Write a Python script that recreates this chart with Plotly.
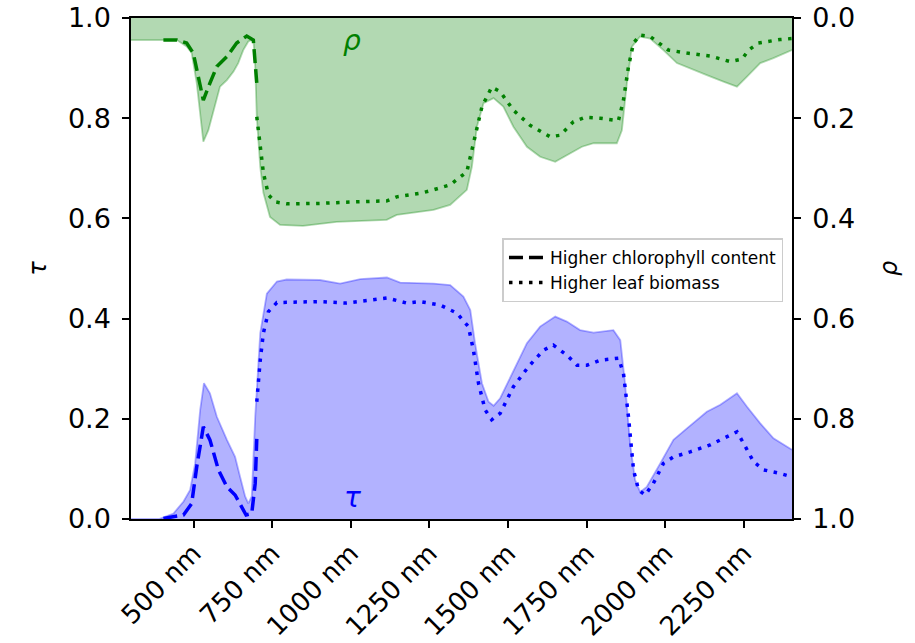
import plotly.graph_objects as go

# ---------------- data (wavelength in nm) ----------------
# reflectance envelope (filled, right axis, reversed)
rho_fill_x = [300, 447, 478, 494, 510, 521, 531, 547, 563, 584, 606, 627, 642, 658, 674, 685, 691,
              696, 701, 712, 722, 743, 775, 848, 955, 1114, 1146, 1220, 1263, 1316, 1369, 1385,
              1401, 1422, 1454, 1485, 1517, 1560, 1602, 1650, 1698, 1735, 1772, 1846, 1862, 1878,
              1894, 1920, 1952, 1994, 2037, 2079, 2132, 2185, 2228, 2260, 2302, 2344, 2403]
rho_fill_y = [0.044, 0.044, 0.057, 0.070, 0.130, 0.198, 0.247, 0.224, 0.184, 0.137, 0.124, 0.107,
              0.090, 0.064, 0.047, 0.044, 0.050, 0.097, 0.197, 0.297, 0.349, 0.397, 0.413, 0.415,
              0.407, 0.403, 0.393, 0.387, 0.383, 0.373, 0.343, 0.297, 0.217, 0.170, 0.160, 0.177,
              0.217, 0.257, 0.277, 0.287, 0.270, 0.257, 0.250, 0.250, 0.224, 0.130, 0.057, 0.037,
              0.041, 0.064, 0.090, 0.100, 0.114, 0.127, 0.137, 0.117, 0.090, 0.080, 0.064]

# reflectance, higher chlorophyll content
rho_chl_x = [404, 447, 478, 499, 515, 531, 552, 574, 606, 637, 669, 690, 701]
rho_chl_y = [0.044, 0.044, 0.050, 0.070, 0.117, 0.164, 0.130, 0.097, 0.077, 0.050, 0.036, 0.044, 0.130]

# reflectance, higher leaf biomass
rho_bio_x = [701, 712, 722, 738, 759, 796, 902, 1008, 1115, 1146, 1220, 1252, 1316, 1369, 1385,
             1401, 1417, 1448, 1475, 1517, 1570, 1634, 1666, 1708, 1745, 1793, 1851, 1867, 1883,
             1899, 1920, 1952, 1978, 2010, 2069, 2143, 2206, 2244, 2265, 2296, 2365, 2403]
rho_bio_y = [0.197, 0.263, 0.309, 0.353, 0.367, 0.371, 0.370, 0.367, 0.365, 0.357, 0.350, 0.345,
             0.333, 0.307, 0.263, 0.217, 0.177, 0.138, 0.147, 0.184, 0.214, 0.237, 0.234, 0.207,
             0.198, 0.200, 0.205, 0.164, 0.097, 0.050, 0.034, 0.037, 0.050, 0.064, 0.070, 0.076,
             0.087, 0.082, 0.064, 0.050, 0.043, 0.041]

# transmittance envelope (filled, left axis)
tau_fill_x = [300, 390, 436, 468, 489, 505, 521, 533, 552, 574, 606, 632, 648, 664, 674, 685, 696,
              712, 733, 765, 796, 902, 966, 1030, 1115, 1157, 1263, 1316, 1358, 1380, 1395, 1417,
              1438, 1454, 1475, 1517, 1560, 1602, 1650, 1687, 1729, 1772, 1835, 1857, 1872, 1888,
              1904, 1920, 1941, 1984, 2026, 2069, 2132, 2175, 2228, 2260, 2302, 2344, 2403]
tau_fill_y = [0.0, 0.0, 0.011, 0.035, 0.058, 0.111, 0.218, 0.271, 0.251, 0.204, 0.158, 0.124,
              0.084, 0.045, 0.031, 0.045, 0.204, 0.371, 0.450, 0.474, 0.478, 0.477, 0.470, 0.479,
              0.482, 0.472, 0.470, 0.467, 0.444, 0.417, 0.351, 0.271, 0.234, 0.226, 0.241, 0.297,
              0.351, 0.384, 0.404, 0.394, 0.377, 0.372, 0.377, 0.357, 0.271, 0.151, 0.078, 0.054,
              0.064, 0.111, 0.158, 0.181, 0.214, 0.228, 0.251, 0.224, 0.191, 0.161, 0.138]

# transmittance, higher chlorophyll content
tau_chl_x = [404, 468, 494, 510, 531, 552, 579, 606, 632, 667, 685, 696, 701]
tau_chl_y = [0.001, 0.008, 0.031, 0.104, 0.184, 0.158, 0.098, 0.064, 0.048, 0.008, 0.011, 0.071, 0.160]

# transmittance, higher leaf biomass
tau_bio_x = [701, 712, 722, 738, 765, 902, 987, 1115, 1178, 1220, 1284, 1337, 1374, 1390, 1406,
             1427, 1448, 1475, 1517, 1565, 1613, 1644, 1687, 1719, 1751, 1793, 1851, 1867, 1883,
             1899, 1915, 1936, 1962, 1994, 2026, 2079, 2143, 2196, 2228, 2249, 2281, 2313, 2365, 2403]
tau_bio_y = [0.234, 0.317, 0.371, 0.414, 0.432, 0.434, 0.431, 0.441, 0.431, 0.434, 0.427, 0.411,
             0.384, 0.337, 0.271, 0.218, 0.198, 0.211, 0.264, 0.304, 0.337, 0.347, 0.327, 0.307,
             0.307, 0.317, 0.321, 0.291, 0.204, 0.098, 0.058, 0.048, 0.071, 0.111, 0.124, 0.134,
             0.148, 0.164, 0.174, 0.151, 0.114, 0.098, 0.091, 0.084]

x_ticks = [500, 750, 1000, 1250, 1500, 1750, 2000, 2250]
x_tick_labels = [f"{v} nm" for v in x_ticks]
y_ticks = [0.0, 0.2, 0.4, 0.6, 0.8, 1.0]
y_tick_labels = ["0.0", "0.2", "0.4", "0.6", "0.8", "1.0"]
legend_names = ["Higher chlorophyll content", "Higher leaf biomass"]

GREEN = "#008000"
BLUE = "#0000ff"
GREEN_FILL = "rgba(0,128,0,0.3)"
BLUE_FILL = "rgba(0,0,255,0.3)"
DASH = "14px,6px"
DOT = "3.5px,6.5px"
LW = 3.5
FONT = "DejaVu Sans"

fig = go.Figure()

# transmittance (left axis)
fig.add_trace(go.Scatter(x=tau_fill_x, y=tau_fill_y, mode="lines", fill="tozeroy",
                         fillcolor=BLUE_FILL, line=dict(color=BLUE_FILL, width=1.8),
                         showlegend=False, hoverinfo="skip"))
fig.add_trace(go.Scatter(x=tau_chl_x, y=tau_chl_y, mode="lines",
                         line=dict(color=BLUE, width=LW, dash=DASH), showlegend=False))
fig.add_trace(go.Scatter(x=tau_bio_x, y=tau_bio_y, mode="lines",
                         line=dict(color=BLUE, width=LW, dash=DOT), showlegend=False))

# reflectance (right axis, reversed)
fig.add_trace(go.Scatter(x=rho_fill_x, y=rho_fill_y, mode="lines", fill="tozeroy", yaxis="y2",
                         fillcolor=GREEN_FILL, line=dict(color=GREEN_FILL, width=1.8),
                         showlegend=False, hoverinfo="skip"))
fig.add_trace(go.Scatter(x=rho_chl_x, y=rho_chl_y, mode="lines", yaxis="y2",
                         line=dict(color=GREEN, width=LW, dash=DASH), showlegend=False))
fig.add_trace(go.Scatter(x=rho_bio_x, y=rho_bio_y, mode="lines", yaxis="y2",
                         line=dict(color=GREEN, width=LW, dash=DOT), showlegend=False))

# legend entries
fig.add_trace(go.Scatter(x=[None], y=[None], mode="lines", name=legend_names[0],
                         line=dict(color="black", width=LW, dash=DASH)))
fig.add_trace(go.Scatter(x=[None], y=[None], mode="lines", name=legend_names[1],
                         line=dict(color="black", width=LW, dash=DOT)))

fig.add_annotation(x=1004, y=0.955, xref="x", yref="y", text="<i>ρ</i>", showarrow=False,
                   font=dict(family=FONT, size=28, color=GREEN))
fig.add_annotation(x=1004, y=0.042, xref="x", yref="y", text="<i>τ</i>", showarrow=False,
                   font=dict(family=FONT, size=28, color=BLUE))

axis_common = dict(showgrid=False, zeroline=False, showline=True, linecolor="black",
                   linewidth=1.5, ticks="outside", ticklen=7, tickwidth=1.5, tickcolor="black",
                   automargin=False)

fig.update_layout(
    width=915, height=643,
    margin=dict(l=131, r=123, t=18, b=124),
    paper_bgcolor="white", plot_bgcolor="white",
    font=dict(family=FONT, size=27, color="black"),
    xaxis=dict(range=[301, 2403], tickvals=x_ticks, ticktext=x_tick_labels, tickangle=-45,
               mirror=True, tickfont=dict(family=FONT, size=26), **axis_common),
    yaxis=dict(range=[0, 1], tickvals=y_ticks, ticktext=y_tick_labels,
               tickfont=dict(family=FONT, size=27), ticklabelstandoff=6,
               title=dict(text="<i>τ</i>", font=dict(family=FONT, size=24), standoff=14),
               **axis_common),
    yaxis2=dict(range=[1, 0], tickvals=y_ticks, ticktext=y_tick_labels, overlaying="y",
                side="right", tickfont=dict(family=FONT, size=27), ticklabelstandoff=6,
                title=dict(text="<i>ρ</i>", font=dict(family=FONT, size=24), standoff=26),
                **axis_common),
    legend=dict(x=0.562, y=0.56, xanchor="left", yanchor="top",
                bgcolor="rgba(255,255,255,0.85)", bordercolor="#cccccc", borderwidth=1.5,
                font=dict(family=FONT, size=17), itemwidth=36, tracegroupgap=0),
)

fig.write_html("out.html", config={"displayModeBar": False},
               post_script="document.body.style.margin='0';document.body.style.overflow='hidden';")
